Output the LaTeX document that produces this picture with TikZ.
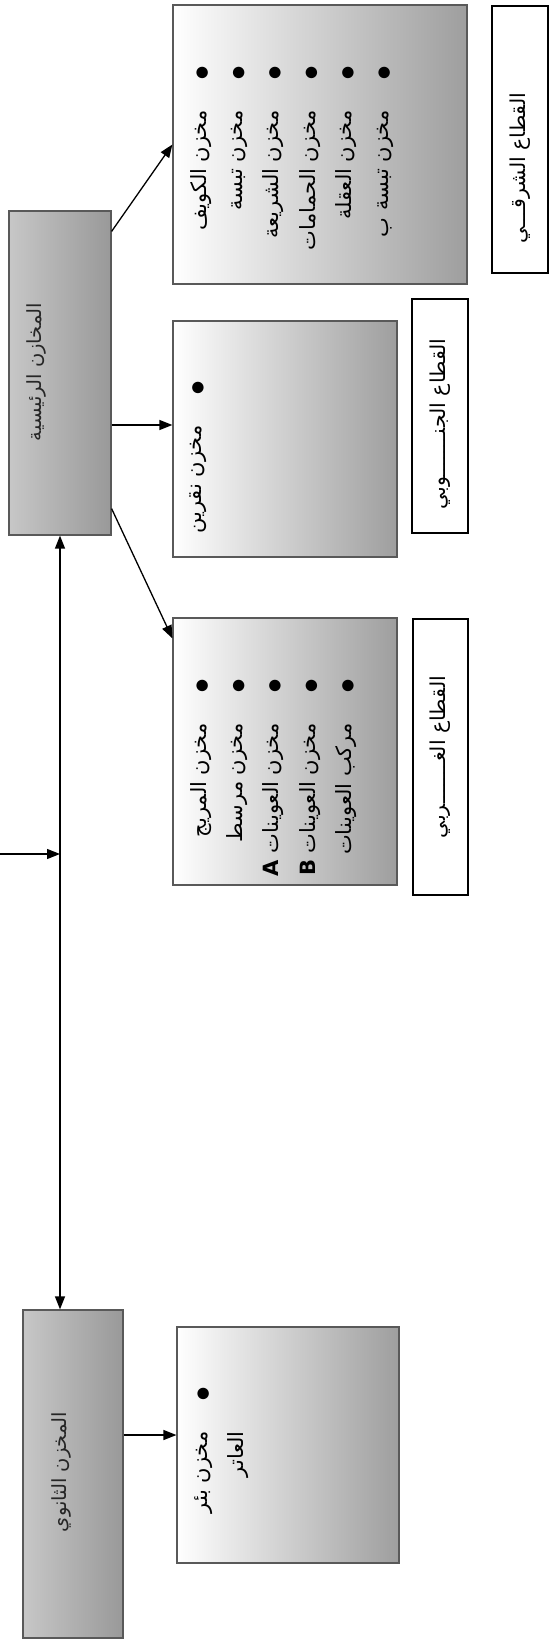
\documentclass[tikz,border=0pt]{standalone}
\usepackage{fontspec}
\newfontfamily\arabicfont[Script=Arabic]{DejaVu Sans}
\TeXXeTstate=1
\usetikzlibrary{arrows.meta}

\newcommand{\artxt}[1]{\beginR #1\endR}
\newcommand{\itm}[1]{\beginR\makebox[44pt][l]{\fontsize{15}{15}\selectfont ●}#1\endR}
\newcommand{\contd}[1]{\beginR\hspace*{44pt}#1\endR}

\begin{document}
\begin{tikzpicture}[x=1pt, y=-1pt,
    shbox/.style={draw=black!65, line width=1.2pt, left color=white,
      right color=black!38, inner sep=0pt},
    ttlbox/.style={draw=black!65, line width=1.2pt, left color=black!22,
      middle color=black!6, right color=black!40, inner sep=0pt},
    sector/.style={draw=black, line width=1.3pt, fill=white, rotate=90,
      inner sep=0pt, font=\arabicfont\fontsize{20.5}{24}\selectfont},
    ttl/.style={rotate=90, inner sep=0pt, text=black!85,
      font=\arabicfont\fontsize{19.5}{23}\selectfont},
    lst/.style={rotate=90, anchor=north east, align=right, inner sep=0pt,
      font=\arabicfont\fontsize{21}{36.4}\selectfont},
    arr/.style={-{Triangle[length=13pt,width=10pt]}, line width=1.3pt},
    darr/.style={{Triangle[length=13pt,width=10pt]}-{Triangle[length=13pt,width=10pt]},
      line width=1.3pt},
  ]
  \useasboundingbox (0,0) rectangle (549,1640);

  % main and secondary stores
  \node[ttlbox, minimum width=102pt, minimum height=324pt] (main) at (60,373) {};
  \node[ttl] (mainttl) at (36,372) {\artxt{المخازن الرئيسية}};
  \node[ttlbox, minimum width=100pt, minimum height=328pt] (second) at (73,1474) {};
  \node[ttl] (secondttl) at (61,1472) {\artxt{المخزن الثانوي}};

  % sector boxes
  \node[shbox, minimum width=294pt, minimum height=279pt] (east) at (320,144.5) {};
  \node[shbox, minimum width=224pt, minimum height=236pt] (south) at (285,439) {};
  \node[shbox, minimum width=224pt, minimum height=267pt] (west) at (285,751.5) {};
  \node[shbox, minimum width=222pt, minimum height=236pt] (bir) at (288,1445) {};

  \node[lst] (eastlst) at (190,66) {\itm{مخزن الكويف}\\ \itm{مخزن تبسة}\\
    \itm{مخزن الشريعة}\\ \itm{مخزن الحمامات}\\ \itm{مخزن العقلة}\\
    \itm{مخزن تبسة ب}};
  \node[lst] (southlst) at (190,381) {\itm{مخزن نقرين}};
  \node[lst] (westlst) at (190,679) {\itm{مخزن المريج}\\ \itm{مخزن مرسط}\\
    \itm{مخزن العوينات \textbf{A}}\\ \itm{مخزن العوينات \textbf{B}}\\
    \itm{مركب العوينات}};
  \node[lst] (birlst) at (194,1387) {\itm{مخزن بئر}\\ \contd{العاتر}};

  % sector labels
  \node[sector, minimum width=267pt, minimum height=56pt] (eastlbl) at (520,139.5)
    {\beginR\hspace*{57pt}القطاع الشرقـــي\endR};
  \node[sector, minimum width=234pt, minimum height=56pt] (southlbl) at (440,416)
    {\beginR\hspace*{16pt}القطاع الجنـــــــوبي\endR};
  \node[sector, minimum width=276pt, minimum height=55pt] (westlbl) at (440.5,757)
    {\artxt{القطاع الغـــــــربي}};

  \coordinate (feed) at (0,854);

  \draw[arr] ([yshift=-21pt]main.north east) -- (east.west);
  \draw[arr] ([yshift=-52pt]main.east) -- ([yshift=-52pt]main.east -| south.west);
  \draw[arr] ([yshift=27pt]main.south east) -- ([yshift=-21pt]west.north west);
  \draw[darr] (main.south) -- (main.south |- second.north);
  \draw[arr] (feed) -- (feed -| main.south);
  \draw[arr] ([yshift=39pt]second.east) -- ([yshift=39pt]second.east -| bir.west);
\end{tikzpicture}
\end{document}
